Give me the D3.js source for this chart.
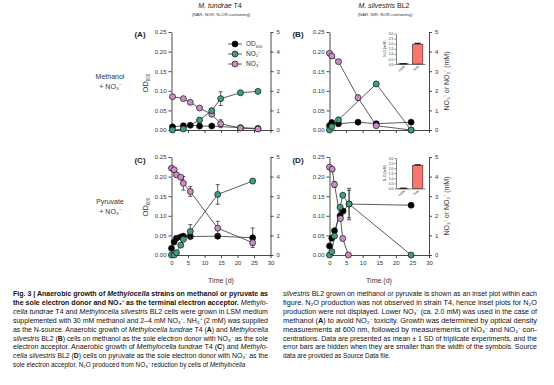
<!DOCTYPE html>
<html>
<head>
<meta charset="utf-8">
<script src="https://cdn.jsdelivr.net/npm/d3@7"></script>
<style>
  html, body { margin: 0; padding: 0; background: #fff; }
  svg text { font-family: "Liberation Sans", Arial, sans-serif; }
</style>
</head>
<body>
<svg id="fig" width="554" height="385"></svg>
<script>
// series are [day, value, sd]; OD on left axis, NO3-/NO2- (mM) on right axis
const odA = [[0.3, 0.008, 0.003], [3.6, 0.011, 0], [5.7, 0.012, 0], [8.5, 0.010, 0], [12.2, 0.010, 0], [20.9, 0.006, 0], [26.2, 0.004, 0]];
const no2A = [[0.3, 0.0, 0], [3.6, 0.05, 0], [8.5, 0.51, 0], [12.2, 0.99, 0], [14.9, 1.6, 0.35], [20.9, 1.9, 0], [26.2, 1.97, 0]];
const no3A = [[0.3, 1.70, 0], [3.6, 1.60, 0], [5.7, 1.41, 0], [8.5, 1.12, 0], [12.2, 0.80, 0], [14.9, 0.32, 0.2], [20.9, 0.10, 0], [26.2, 0.05, 0]];

const odB = [[0, 0.011, 0], [0.7, 0.019, 0.005], [2.7, 0.016, 0.006], [8.6, 0.020, 0], [14.1, 0.016, 0.005], [24.6, 0.020, 0]];
const no2B = [[0, 0.0, 0], [0.7, 0.17, 0], [2.7, 0.52, 0], [14.1, 2.35, 0], [24.6, 0.0, 0]];
const no3B = [[0, 3.91, 0], [0.7, 3.78, 0], [2.7, 3.49, 0], [8.6, 1.65, 0.12], [14.1, 0.22, 0.1], [24.6, 0.0, 0]];

const odC = [[0, 0.017, 0], [0.8, 0.033, 0], [1.5, 0.043, 0], [2.8, 0.046, 0], [3.6, 0.048, 0.006], [5.7, 0.047, 0.005], [14, 0.048, 0.006], [24.6, 0.044, 0.025]];
const no2C = [[0, 0.0, 0], [0.8, 0.0, 0], [1.5, 0.12, 0], [2.8, 0.5, 0], [3.6, 0.8, 0], [5.7, 1.2, 0.35], [14, 3.09, 0.5], [24.6, 3.77, 0.08]];
const no3C = [[0, 4.43, 0], [0.8, 4.35, 0], [1.5, 4.09, 0], [2.8, 3.97, 0], [3.6, 3.66, 0.35], [5.7, 3.24, 0.25], [14, 1.37, 0.35], [24.6, 0.63, 0.15]];

const odD = [[0, 0.023, 0], [0.7, 0.043, 0], [1.5, 0.062, 0], [3.2, 0.100, 0], [4.1, 0.112, 0], [5.9, 0.130, 0.035], [24.6, 0.127, 0.005]];
const no2D = [[0, 0.0, 0], [0.7, 0.17, 0], [1.5, 0.97, 0], [3.2, 2.44, 0], [4.0, 3.05, 0], [5.9, 2.6, 0.8], [24.6, 0.0, 0]];
const no3D = [[0, 4.48, 0], [0.8, 4.38, 0], [1.5, 3.6, 0.15], [3.3, 1.86, 0], [4.0, 0.84, 0.1], [5.7, 0.0, 0]];

// N2O insets (mM): [category, value, sd]
const n2oB = [['initial', 0.02, 0.01], ['final', 1.95, 0.08]];
const n2oD = [['initial', 0.02, 0.01], ['final', 2.28, 0.05]];

const timeTicks = [0, 5, 10, 15, 20, 25, 30];
const odTicks = [0, 0.05, 0.10, 0.15, 0.20, 0.25];
const mmTicks = [0, 1, 2, 3, 4, 5];
const insetTicks = [0, 0.5, 1.0, 1.5, 2.0, 2.5, 3.0];

const colors = { od: '#000000', no2: '#3f9f7a', no3: '#cc8dc4', bar: '#f7776e', line: '#333333' };

const svg = d3.select('#fig');

function drawPanel (box, series, opts) {
  const x = d3.scaleLinear().domain([0, 30]).range([box.left, box.right]);
  const yOd = d3.scaleLinear().domain([0, 0.25]).range([box.bottom, box.top]);
  const yMm = d3.scaleLinear().domain([0, 5]).range([box.bottom, box.top]);
  const g = svg.append('g');

  const xAxis = d3.axisBottom(x).tickValues(timeTicks).tickSize(3).tickSizeOuter(0).tickPadding(2);
  if (!opts.xLabels) xAxis.tickFormat('');
  const ax = g.append('g')
    .attr('transform', 'translate(0,' + box.bottom + ')')
    .call(xAxis);
  g.append('g')
    .attr('transform', 'translate(' + box.left + ',0)')
    .call(d3.axisLeft(yOd).tickValues(odTicks).tickFormat(d3.format('.2f')).tickSize(3).tickSizeOuter(0).tickPadding(2));
  g.append('g')
    .attr('transform', 'translate(' + box.right + ',0)')
    .call(d3.axisRight(yMm).tickValues(mmTicks).tickFormat(d3.format('d')).tickSize(3).tickSizeOuter(0).tickPadding(3));
  g.selectAll('.domain, .tick line').attr('stroke', colors.line).attr('stroke-width', 0.9);
  g.selectAll('.tick text').attr('font-size', 6).attr('fill', '#333');
  ax.selectAll('.tick text').attr('dy', '0.9em');

  const layers = [
    { data: series.od, y: yOd, fill: colors.od },
    { data: series.no3, y: yMm, fill: colors.no3 },
    { data: series.no2, y: yMm, fill: colors.no2 }
  ];

  layers.forEach((s) => {
    const line = d3.line().x((d) => x(d[0])).y((d) => s.y(d[1]));
    g.append('path')
      .datum(s.data)
      .attr('d', line)
      .attr('fill', 'none')
      .attr('stroke', colors.line)
      .attr('stroke-width', 0.8);
  });

  layers.forEach((s) => {
    const bars = s.data.filter((d) => d[2] > 0);
    const eb = g.append('g').attr('stroke', colors.line).attr('stroke-width', 0.8);
    eb.selectAll('line.v').data(bars).enter().append('line')
      .attr('x1', (d) => x(d[0])).attr('x2', (d) => x(d[0]))
      .attr('y1', (d) => s.y(d[1] - d[2])).attr('y2', (d) => s.y(d[1] + d[2]));
    [-1, 1].forEach((sgn) => {
      eb.selectAll('line.c' + sgn).data(bars).enter().append('line')
        .attr('x1', (d) => x(d[0]) - 2).attr('x2', (d) => x(d[0]) + 2)
        .attr('y1', (d) => s.y(d[1] + sgn * d[2])).attr('y2', (d) => s.y(d[1] + sgn * d[2]));
    });
    g.append('g').selectAll('circle').data(s.data).enter().append('circle')
      .attr('cx', (d) => x(d[0]))
      .attr('cy', (d) => s.y(d[1]))
      .attr('r', 3)
      .attr('fill', s.fill)
      .attr('stroke', '#111')
      .attr('stroke-width', 0.7);
  });

  if (opts.inset) drawInset(opts.inset, opts.insetBox);
}

function drawInset (data, b) {
  const x = d3.scaleBand().domain(data.map((d) => d[0])).range([b.left, b.right]).paddingInner(0.25).paddingOuter(0.15);
  const y = d3.scaleLinear().domain([0, 3]).range([b.bottom, b.top]);
  const g = svg.append('g');
  g.append('g')
    .attr('transform', 'translate(' + b.left + ',0)')
    .call(d3.axisLeft(y).tickValues(insetTicks).tickFormat(d3.format('.1f')).tickSize(1.5).tickSizeOuter(0).tickPadding(1));
  g.append('g')
    .attr('transform', 'translate(0,' + b.bottom + ')')
    .call(d3.axisBottom(x).tickSize(0).tickSizeOuter(0).tickPadding(2))
    .selectAll('.tick text')
    .attr('text-anchor', 'end')
    .attr('transform', 'rotate(-45)')
    .attr('dx', '-0.2em')
    .attr('dy', '0.3em');
  g.selectAll('.domain, .tick line').attr('stroke', colors.line).attr('stroke-width', 0.6);
  g.selectAll('.tick text').attr('font-size', 3.4).attr('fill', '#333');

  g.selectAll('rect').data(data).enter().append('rect')
    .attr('x', (d) => x(d[0]))
    .attr('width', x.bandwidth())
    .attr('y', (d) => y(d[1]))
    .attr('height', (d) => b.bottom - y(d[1]))
    .attr('fill', colors.bar)
    .attr('stroke', '#111')
    .attr('stroke-width', 0.5);
  g.selectAll('line.err').data(data).enter().append('line')
    .attr('x1', (d) => x(d[0]) + x.bandwidth() * 0.2)
    .attr('x2', (d) => x(d[0]) + x.bandwidth() * 0.8)
    .attr('y1', (d) => y(d[1] + d[2]))
    .attr('y2', (d) => y(d[1] + d[2]))
    .attr('stroke', '#111')
    .attr('stroke-width', 1.2);

  g.append('text')
    .attr('transform', 'translate(' + (b.left - 10) + ',' + ((b.top + b.bottom) / 2) + ') rotate(-90)')
    .attr('text-anchor', 'middle')
    .attr('font-size', 3.6)
    .attr('fill', '#333')
    .text('N₂O (mM)');
}

drawPanel({ left: 171.5, right: 270.5, top: 32, bottom: 130 }, { od: odA, no2: no2A, no3: no3A }, { xLabels: false });
drawPanel({ left: 329.5, right: 429, top: 32, bottom: 130 }, { od: odB, no2: no2B, no3: no3B },
  { xLabels: false, inset: n2oB, insetBox: { left: 396, right: 425, top: 33.5, bottom: 64 } });
drawPanel({ left: 171.5, right: 270.5, top: 157, bottom: 255 }, { od: odC, no2: no2C, no3: no3C }, { xLabels: true });
drawPanel({ left: 329.5, right: 429, top: 157, bottom: 255 }, { od: odD, no2: no2D, no3: no3D },
  { xLabels: true, inset: n2oD, insetBox: { left: 396, right: 425, top: 158, bottom: 188.5 } });

// legend in panel A
const legend = [['OD', '600', colors.od], ['NO₂⁻', '', colors.no2], ['NO₃⁻', '', colors.no3]];
legend.forEach((d, i) => {
  const ly = 44 + i * 10;
  svg.append('line').attr('x1', 228).attr('x2', 242).attr('y1', ly).attr('y2', ly)
    .attr('stroke', colors.line).attr('stroke-width', 0.8);
  svg.append('circle').attr('cx', 235).attr('cy', ly).attr('r', 3)
    .attr('fill', d[2]).attr('stroke', '#111').attr('stroke-width', 0.7);
  const t = svg.append('text').attr('x', 246).attr('y', ly + 2.2).attr('font-size', 6.5).attr('fill', '#333');
  t.append('tspan').text(d[0]);
  if (d[1]) t.append('tspan').attr('font-size', 4).attr('dy', 1.5).text(d[1]);
});

// headers
function header (cx, italic, plain, sub) {
  const t = svg.append('text').attr('x', cx).attr('y', 8).attr('text-anchor', 'middle').attr('font-size', 7).attr('fill', '#222');
  t.append('tspan').attr('font-style', 'italic').text(italic);
  t.append('tspan').text(plain);
  svg.append('text').attr('x', cx + 1).attr('y', 15.5).attr('text-anchor', 'middle').attr('font-size', 4.3).attr('fill', '#333').text(sub);
}
header(220, 'M. tundrae', ' T4', '(NAR, NOR, N₂OR-containing)');
header(384, 'M. silvestris', ' BL2', '(NAR, NIR, NOR-containing)');

// panel letters
[['(A)', 140, 37], ['(B)', 298, 37], ['(C)', 140, 163], ['(D)', 298, 163]].forEach((d) => {
  svg.append('text').attr('x', d[1]).attr('y', d[2]).attr('text-anchor', 'middle')
    .attr('font-size', 8).attr('font-weight', 'bold').attr('fill', '#222').text(d[0]);
});

// row labels
[['Methanol', 79], ['+ NO₃⁻', 89], ['Pyruvate', 204], ['+ NO₃⁻', 214]].forEach((d) => {
  svg.append('text').attr('x', 110).attr('y', d[1]).attr('text-anchor', 'middle')
    .attr('font-size', 7).attr('fill', '#333').text(d[0]);
});

// axis titles
[[148, 83], [148, 207]].forEach((p) => {
  const t = svg.append('text')
    .attr('transform', 'translate(' + p[0] + ',' + p[1] + ') rotate(-90)')
    .attr('text-anchor', 'middle').attr('font-size', 7.5).attr('fill', '#333');
  t.append('tspan').text('OD');
  t.append('tspan').attr('font-size', 4.5).attr('dy', 1.8).text('600');
});
[[449, 81], [449, 206]].forEach((p) => {
  svg.append('text')
    .attr('transform', 'translate(' + p[0] + ',' + p[1] + ') rotate(-90)')
    .attr('text-anchor', 'middle').attr('font-size', 7).attr('fill', '#333')
    .text('NO₃⁻ or NO₂⁻ (mM)');
});
[221, 379].forEach((cx) => {
  svg.append('text').attr('x', cx).attr('y', 283).attr('text-anchor', 'middle')
    .attr('font-size', 7).attr('fill', '#333').text('Time (d)');
});

// caption: segments are [text, style] with b = bold, i = italic
const captionLeft = [
  [['Fig. 3 | Anaerobic growth of ', 'b'], ['Methylocella', 'bi'], [' strains on methanol or pyruvate as', 'b']],
  [['the sole electron donor and NO₃⁻ as the terminal electron acceptor. ', 'b'], ['Methylo-', 'i']],
  [['cella tundrae', 'i'], [' T4 and ', ''], ['Methylocella silvestris', 'i'], [' BL2 cells were grown in LSM medium', '']],
  [['supplemented with 30 mM methanol and 2–4 mM NO₃⁻. NH₄⁺ (2 mM) was supplied', '']],
  [['as the N-source. Anaerobic growth of ', ''], ['Methylocella tundrae', 'i'], [' T4 (', ''], ['A', 'b'], [') and ', ''], ['Methylocella', 'i']],
  [['silvestris', 'i'], [' BL2 (', ''], ['B', 'b'], [') cells on methanol as the sole electron donor with NO₃⁻ as the sole', '']],
  [['electron acceptor. Anaerobic growth of ', ''], ['Methylocella tundrae', 'i'], [' T4 (', ''], ['C', 'b'], [') and ', ''], ['Methylo-', 'i']],
  [['cella silvestris', 'i'], [' BL2 (', ''], ['D', 'b'], [') cells on pyruvate as the sole electron donor with NO₃⁻ as the', '']],
  [['sole electron acceptor. N₂O produced from NO₃⁻ reduction by cells of ', ''], ['Methylocella', 'i']]
];
const captionRight = [
  [['silvestris', 'i'], [' BL2 grown on methanol or pyruvate is shown as an inset plot within each', '']],
  [['figure. N₂O production was not observed in strain T4, hence inset plots for N₂O', '']],
  [['production were not displayed. Lower NO₃⁻ (ca. 2.0 mM) was used in the case of', '']],
  [['methanol (', ''], ['A', 'b'], [') to avoid NO₂⁻ toxicity. Growth was determined by optical density', '']],
  [['measurements at 600 nm, followed by measurements of NO₃⁻ and NO₂⁻ con-', '']],
  [['centrations. Data are presented as mean ± 1 SD of triplicate experiments, and the', '']],
  [['error bars are hidden when they are smaller than the width of the symbols. Source', '']],
  [['data are provided as Source Data file.', '']]
];

function caption (lines, x0, width) {
  lines.forEach((segs, i) => {
    const t = svg.append('text')
      .attr('x', x0).attr('y', 296 + i * 8.9)
      .attr('font-size', 6.4).attr('fill', '#111');
    segs.forEach((s) => {
      const sp = t.append('tspan').text(s[0]);
      if (s[1].includes('b')) sp.attr('font-weight', 'bold');
      if (s[1].includes('i')) sp.attr('font-style', 'italic');
    });
    if (i < lines.length - 1) t.attr('textLength', width).attr('lengthAdjust', 'spacingAndGlyphs');
  });
}
caption(captionLeft, 13, 255);
caption(captionRight, 283, 254);
</script>
</body>
</html>
